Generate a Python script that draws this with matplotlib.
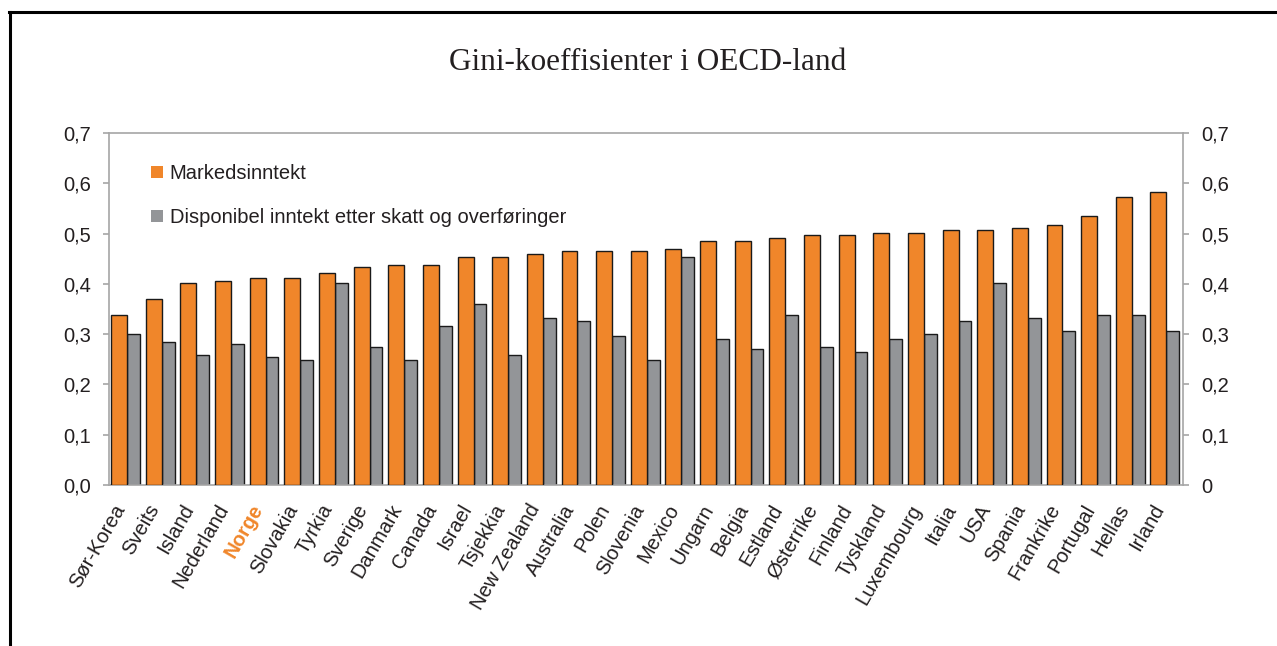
import numpy as np
import matplotlib
matplotlib.use("Agg")
import matplotlib.pyplot as plt
import matplotlib.transforms as mtrans
from matplotlib.lines import Line2D

land = ['Sør-Korea', 'Sveits', 'Island', 'Nederland', 'Norge', 'Slovakia', 'Tyrkia',
        'Sverige', 'Danmark', 'Canada', 'Israel', 'Tsjekkia', 'New Zealand', 'Australia',
        'Polen', 'Slovenia', 'Mexico', 'Ungarn', 'Belgia', 'Estland', 'Østerrike',
        'Finland', 'Tyskland', 'Luxembourg', 'Italia', 'USA', 'Spania', 'Frankrike',
        'Portugal', 'Hellas', 'Irland']
markedsinntekt = [0.338, 0.370, 0.401, 0.406, 0.411, 0.411, 0.422, 0.433, 0.438, 0.438,
                  0.454, 0.454, 0.459, 0.465, 0.465, 0.465, 0.470, 0.486, 0.486, 0.491,
                  0.497, 0.497, 0.502, 0.502, 0.507, 0.507, 0.512, 0.518, 0.534, 0.572,
                  0.583]
disponibel = [0.301, 0.285, 0.259, 0.280, 0.254, 0.248, 0.401, 0.275, 0.248, 0.317,
              0.359, 0.259, 0.333, 0.327, 0.296, 0.248, 0.454, 0.291, 0.270, 0.338,
              0.275, 0.264, 0.291, 0.301, 0.327, 0.401, 0.333, 0.306, 0.338, 0.338,
              0.306]
yticks = [0.0, 0.1, 0.2, 0.3, 0.4, 0.5, 0.6, 0.7]
venstre_etiketter = ['0,0', '0,1', '0,2', '0,3', '0,4', '0,5', '0,6', '0,7']
hoyre_etiketter = ['0', '0,1', '0,2', '0,3', '0,4', '0,5', '0,6', '0,7']

orange = '#f0862a'
graa = '#939598'
tekst = '#231f20'
akse = '#a6a6a6'
fs = 14.5

plt.rcParams['font.family'] = ['Liberation Sans', 'DejaVu Sans']

fig = plt.figure(figsize=(12.77, 6.46), dpi=100)
ax = fig.add_axes([0.0854, 0.2492, 0.841, 0.5449])

x = np.arange(len(land))
ax.bar(x - 0.44, markedsinntekt, width=0.46, align='edge', color=orange,
       edgecolor='#1a1a1a', linewidth=1.0, label='Markedsinntekt', zorder=3)
ax.bar(x + 0.02, disponibel, width=0.37, align='edge', color=graa,
       edgecolor='#1a1a1a', linewidth=1.0,
       label='Disponibel inntekt etter skatt og overføringer', zorder=2)

ax.set_xlim(-0.5, len(land) - 0.5)
ax.set_ylim(0, 0.7)
ax.set_yticks(yticks)
ax.set_yticklabels(venstre_etiketter)
ax.set_xticks(x)

for s in ax.spines.values():
    s.set_color(akse)
    s.set_linewidth(1.2)
ax.tick_params(axis='y', length=4, width=1.2, color=akse, pad=9,
               labelsize=fs, labelcolor=tekst)
ax.tick_params(axis='x', length=0, pad=15, labelsize=fs, labelcolor=tekst)

ax.set_xticklabels(land, rotation=60, ha='right', va='center', rotation_mode='anchor')
flytt = mtrans.ScaledTranslation(-6 / 100, 0, fig.dpi_scale_trans)
for lbl in ax.get_xticklabels():
    lbl.set_transform(lbl.get_transform() + flytt)
    if lbl.get_text() == 'Norge':
        lbl.set_color(orange)
        lbl.set_fontweight('bold')

ax2 = ax.twinx()
ax2.set_ylim(0, 0.7)
ax2.set_yticks(yticks)
ax2.set_yticklabels(hoyre_etiketter)
for s in ax2.spines.values():
    s.set_visible(False)
ax2.tick_params(axis='y', length=4, width=1.2, color=akse, pad=9,
                labelsize=fs, labelcolor=tekst)

leg = ax.legend(loc='upper left', bbox_to_anchor=(0.032, 0.935), frameon=False,
                fontsize=fs, handlelength=0.55, handleheight=0.55,
                handletextpad=0.35, labelspacing=1.25, borderaxespad=0)
for t in leg.get_texts():
    t.set_color(tekst)
for h in leg.legend_handles:
    h.set_edgecolor('none')

fig.text(0.507, 0.903, 'Gini-koeffisienter i OECD-land', ha='center', va='center',
         fontsize=22.5, family='Liberation Serif', color=tekst)

# svart ramme rundt figuren (venstre og topp)
fig.add_artist(Line2D([0.0082, 0.0082], [0.0, 0.9814], transform=fig.transFigure,
                      color='black', linewidth=2.2))
fig.add_artist(Line2D([0.0074, 1.0], [0.9814, 0.9814], transform=fig.transFigure,
                      color='black', linewidth=2.2))

fig.savefig('out.png', dpi=100)
